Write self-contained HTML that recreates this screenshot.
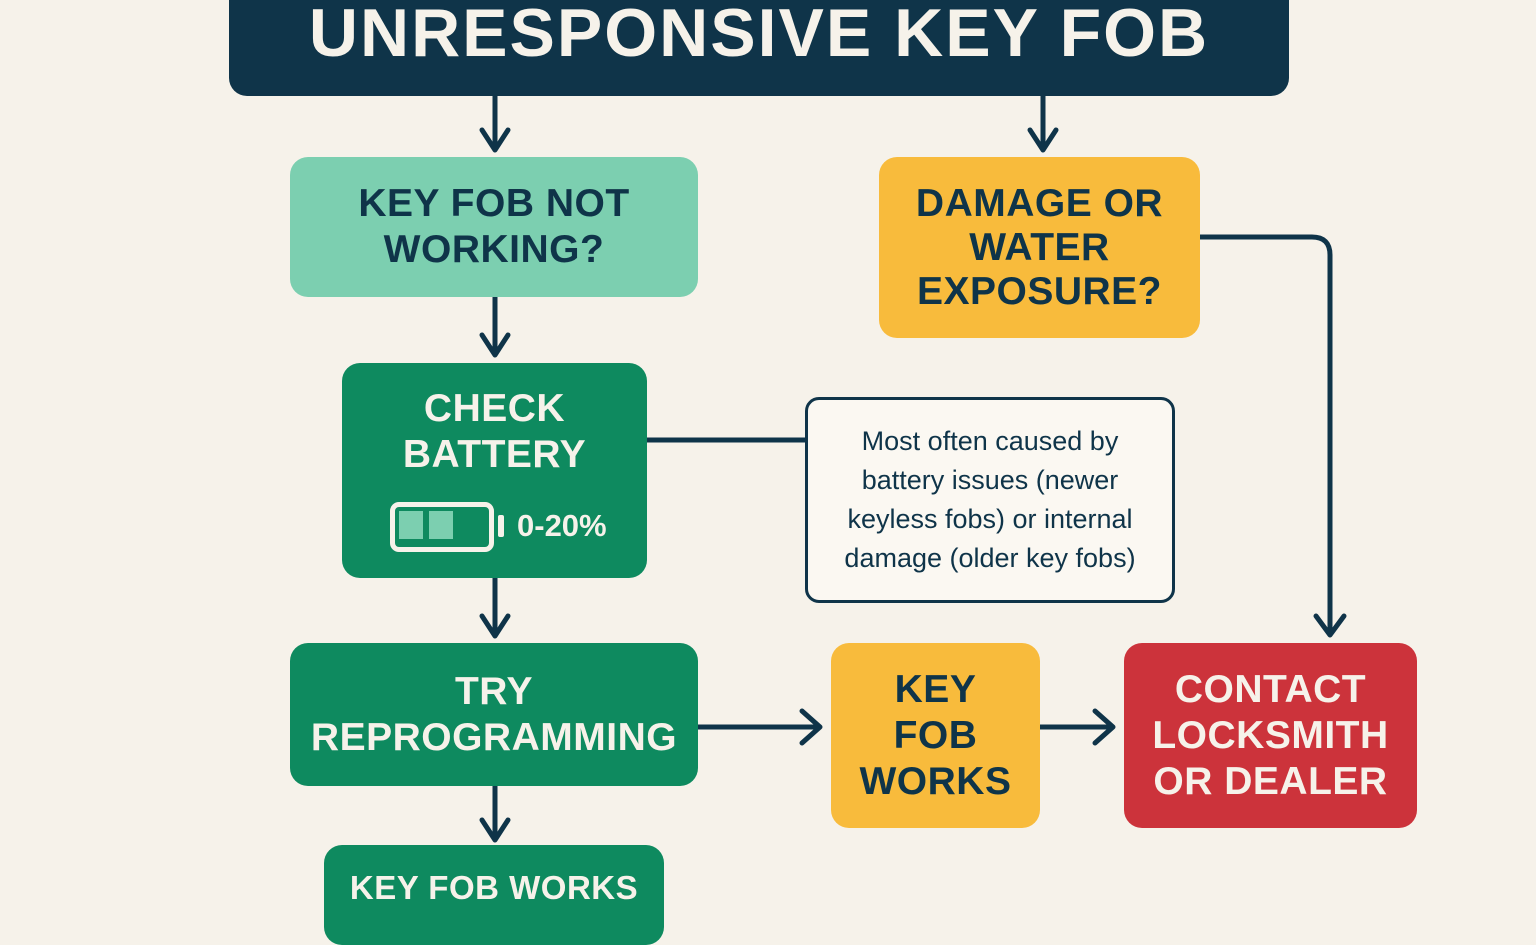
<!DOCTYPE html>
<html><head><meta charset="utf-8"><style>
body{margin:0;width:1536px;height:921px;overflow:hidden;background:#f6f2ea;font-family:"Liberation Sans",sans-serif;position:relative}
.b{position:absolute;border-radius:18px;display:flex;flex-direction:column;align-items:center;justify-content:center;text-align:center;font-weight:bold;line-height:46px;font-size:39px;letter-spacing:0.5px}
</style></head><body>
<svg width="1536" height="921" style="position:absolute;left:0;top:0" fill="none" stroke="#0f3449" stroke-width="5" stroke-linecap="round" stroke-linejoin="round">
<path d="M495 96V150M482 130L495 150L508 130"/>
<path d="M1043 96V150M1030 130L1043 150L1056 130"/>
<path d="M495 297V355M482 335L495 355L508 335"/>
<path d="M495 578V636M482 616L495 636L508 616"/>
<path d="M495 786V840M482 820L495 840L508 820"/>
<path d="M647 440H805"/>
<path d="M698 727H820M802 711L820 727L802 743"/>
<path d="M1040 727H1113M1095 711L1113 727L1095 743"/>
<path d="M1200 237H1312Q1330 237 1330 255V635M1316 616L1330 635L1344 616"/>
</svg>
<div class="b" style="left:229px;top:-20px;width:1060px;height:116px;background:#0f3449;color:#f6f2ea;font-size:68px;letter-spacing:2px;line-height:72px;padding-bottom:10px;box-sizing:border-box">UNRESPONSIVE KEY FOB</div>
<div class="b" style="left:290px;top:157px;width:408px;height:140px;background:#7ccfb0;color:#0f3449">KEY FOB NOT<br>WORKING?</div>
<div class="b" style="left:879px;top:157px;width:321px;height:181px;background:#f8bb3c;color:#0f3449;line-height:44px">DAMAGE OR<br>WATER<br>EXPOSURE?</div>
<div class="b" style="left:342px;top:363px;width:305px;height:215px;background:#0e8a5f;color:#f6f2ea;justify-content:flex-start;padding-top:23px;box-sizing:border-box">CHECK<br>BATTERY</div>
<div style="position:absolute;left:390px;top:502px;width:104px;height:50px;border:5px solid #f6f2ea;border-radius:9px;box-sizing:border-box"></div>
<div style="position:absolute;left:399px;top:511px;width:24px;height:28px;background:#7ccfb0"></div>
<div style="position:absolute;left:429px;top:511px;width:24px;height:28px;background:#7ccfb0"></div>
<div style="position:absolute;left:498px;top:515px;width:6px;height:22px;background:#f6f2ea;border-radius:2px"></div>
<div style="position:absolute;left:517px;top:505px;font-size:31px;line-height:42px;font-weight:bold;color:#f6f2ea;white-space:nowrap">0-20%</div>
<div style="position:absolute;left:805px;top:397px;width:370px;height:206px;border:3px solid #0f3449;border-radius:14px;box-sizing:border-box;background:#fbf8f2;color:#0f3449;font-size:27px;line-height:39px;text-align:center;padding-top:22px;white-space:nowrap">Most often caused by<br>battery issues (newer<br>keyless fobs) or internal<br>damage (older key fobs)</div>
<div class="b" style="left:290px;top:643px;width:408px;height:143px;background:#0e8a5f;color:#f6f2ea">TRY<br>REPROGRAMMING</div>
<div class="b" style="left:831px;top:643px;width:209px;height:185px;background:#f8bb3c;color:#0f3449">KEY<br>FOB<br>WORKS</div>
<div class="b" style="left:1124px;top:643px;width:293px;height:185px;background:#cc333b;color:#f6f2ea">CONTACT<br>LOCKSMITH<br>OR DEALER</div>
<div class="b" style="left:324px;top:845px;width:340px;height:100px;background:#0e8a5f;color:#f6f2ea;font-size:33px;justify-content:flex-start;padding-top:20px;box-sizing:border-box">KEY FOB WORKS</div>
</body></html>
